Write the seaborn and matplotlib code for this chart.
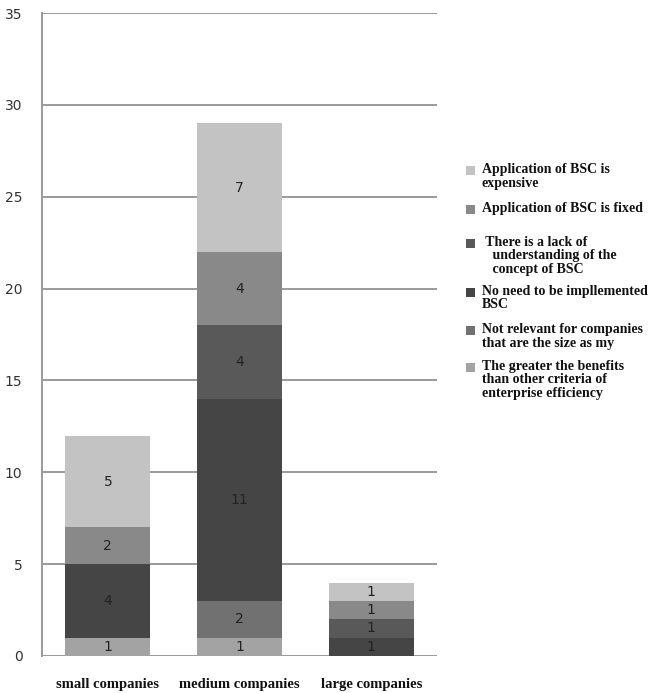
import matplotlib
matplotlib.use('Agg')
import matplotlib.pyplot as plt
import numpy as np
import seaborn as sns
from matplotlib.patches import Rectangle

# Datos
categorias = ['small companies', 'medium companies', 'large companies']
series = [
    'Application of BSC is\nexpensive',
    'Application of BSC is fixed',
    ' There is a lack of\n   understanding of the\n   concept of BSC',
    'No need to be impllemented\nBSC',
    'Not relevant for companies\nthat are the size as my',
    'The greater the benefits\nthan other criteria of\nenterprise efficiency',
]
# valores de abajo hacia arriba
greater_benefits = [1, 1, 0]
not_relevant = [0, 2, 0]
no_need = [4, 11, 1]
lack_understanding = [0, 4, 1]
is_fixed = [2, 4, 1]
expensive = [5, 7, 1]

colores = ['#c3c3c3', '#898989', '#595959', '#454545', '#717171', '#a3a3a3']
y_ticks = [0, 5, 10, 15, 20, 25, 30, 35]

sns.set_theme(style='white')
plt.rcParams['font.family'] = ['DejaVu Sans']

fig = plt.figure(figsize=(6.53, 6.93), dpi=100)
ax = fig.add_axes([0.0643, 0.0534, 0.605, 0.9276])

# orden de apilado (abajo -> arriba)
pila = [greater_benefits, not_relevant, no_need, lack_understanding, is_fixed, expensive]
colores_pila = colores[::-1]
acumulado = np.cumsum(np.array(pila), axis=0)

# dibujar de arriba hacia abajo para superponer
for i in range(len(pila) - 1, -1, -1):
    sns.barplot(x=categorias, y=acumulado[i], color=colores_pila[i],
                saturation=1, width=0.645, ax=ax, zorder=3, linewidth=0)

for i, valores in enumerate(pila):
    for j, v in enumerate(valores):
        if v > 0:
            ax.text(j, acumulado[i][j] - v / 2, str(v), ha='center', va='center',
                    fontsize=10, color='#222222', zorder=4)

ax.set_ylim(0, 35)
ax.set_xlim(-0.5, 2.5)
ax.set_yticks(y_ticks)
ax.set_yticklabels([str(t) for t in y_ticks], fontsize=10, color='#333333')
ax.tick_params(axis='y', length=0, pad=14)
ax.tick_params(axis='x', length=0, pad=16)
for lab in ax.get_xticklabels():
    lab.set_fontfamily('Liberation Serif')
    lab.set_fontweight('bold')
    lab.set_fontsize(10.5)
    lab.set_color('#111111')
ax.yaxis.grid(True, color='#9a9a9a', linewidth=1.4, zorder=0)
ax.set_axisbelow(True)
for s in ['top', 'right', 'bottom']:
    ax.spines[s].set_visible(False)
ax.spines['left'].set_color('#9a9a9a')
ax.spines['left'].set_linewidth(1.4)
ax.set_ylabel('')
ax.set_xlabel('')

# Leyenda manual (alineada a la primera línea como en Excel)
alto = 693.0
ancho = 653.0
pos_y = [170, 209, 243, 292, 330, 367]
for etiqueta, color, y in zip(series, colores, pos_y):
    fig.patches.append(Rectangle((466 / ancho, 1 - (y + 5) / alto), 9 / ancho, 9 / alto,
                                 transform=fig.transFigure, facecolor=color,
                                 edgecolor='none'))
    fig.text(482 / ancho, 1 - (y - 7) / alto, etiqueta, ha='left', va='top',
             fontsize=10, fontweight='bold', family='Liberation Serif',
             color='#111111', linespacing=1.05)

fig.savefig('out.png', dpi=100, facecolor='white')
